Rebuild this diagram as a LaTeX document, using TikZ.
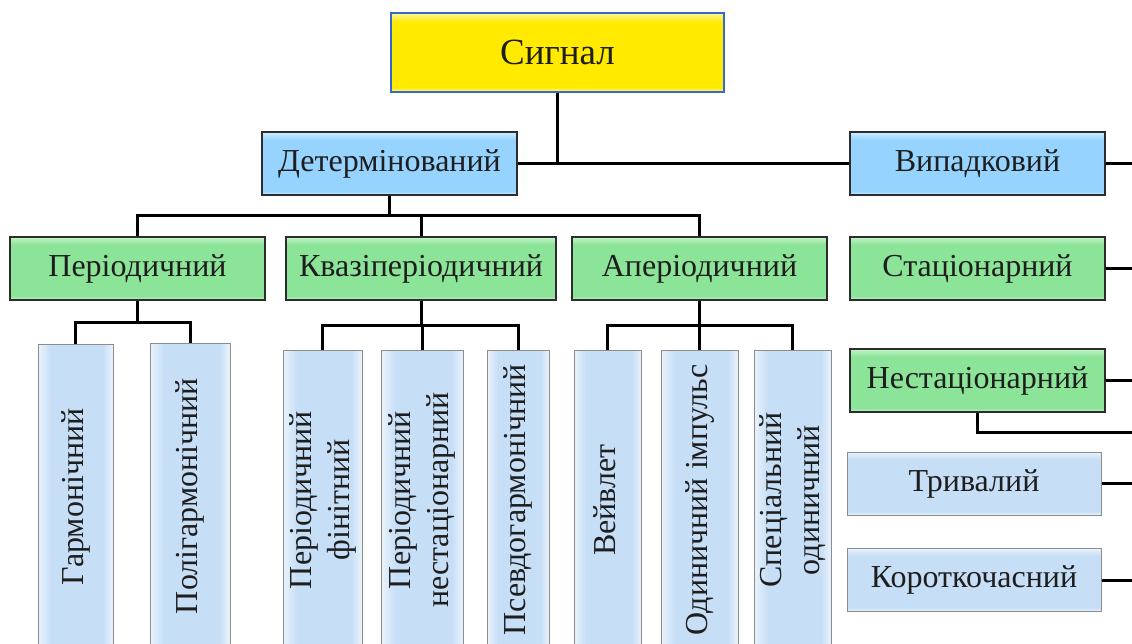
\documentclass[tikz,border=0pt]{standalone}
\usepackage{fontspec}
\setmainfont{Liberation Serif}
\usepackage{graphicx}

% palette
\definecolor{ybase}{RGB}{255,234,0}
\definecolor{ylight}{RGB}{255,246,150}
\definecolor{ybord}{RGB}{55,105,205}
\definecolor{bbase}{RGB}{150,212,255}
\definecolor{blight}{RGB}{208,236,255}
\definecolor{gbase}{RGB}{140,228,152}
\definecolor{glight}{RGB}{198,244,203}
\definecolor{pbase}{RGB}{198,222,246}
\definecolor{plight}{RGB}{234,243,252}
\definecolor{frame}{RGB}{45,45,45}
\definecolor{pframe}{RGB}{140,140,140}
\definecolor{ink}{RGB}{30,30,30}

% box fills: flat colour with a lighter rim at top and bottom
\pgfdeclareverticalshading{yshade}{100bp}{color(0bp)=(ylight); color(25bp)=(ylight); color(28bp)=(ybase); color(69bp)=(ybase); color(75bp)=(ylight); color(100bp)=(ylight)}
\pgfdeclareverticalshading{bshade}{100bp}{color(0bp)=(blight); color(25bp)=(blight); color(28bp)=(bbase); color(69bp)=(bbase); color(75bp)=(blight); color(100bp)=(blight)}
\pgfdeclareverticalshading{gshade}{100bp}{color(0bp)=(glight); color(25bp)=(glight); color(28bp)=(gbase); color(69bp)=(gbase); color(75bp)=(glight); color(100bp)=(glight)}
\pgfdeclareverticalshading{pshade}{100bp}{color(0bp)=(plight); color(25bp)=(plight); color(28bp)=(pbase); color(69bp)=(pbase); color(75bp)=(plight); color(100bp)=(plight)}
% tall boxes: lighter towards the left and right edges
\pgfdeclarehorizontalshading{tshade}{100bp}{color(0bp)=(plight); color(25bp)=(plight); color(34bp)=(pbase); color(68bp)=(pbase); color(75bp)=(plight); color(100bp)=(plight)}

\newcommand\turnedtext[1]{\rotatebox{90}{\begin{tabular}{@{}c@{}}#1\end{tabular}}}

\begin{document}
\begin{tikzpicture}[x=1pt,y=-1pt,
  box/.style={rectangle, shade, inner sep=0pt, minimum height=63pt,
    text=ink, font=\fontsize{32}{38}\selectfont},
  sigbox/.style={box, shading=yshade, draw=ybord, line width=2pt,
    minimum width=333pt, minimum height=79pt, font=\fontsize{37}{44}\selectfont},
  bluebox/.style={box, shading=bshade, draw=frame, line width=2pt},
  greenbox/.style={box, shading=gshade, draw=frame, line width=2pt},
  palebox/.style={box, shading=pshade, draw=pframe, line width=1pt},
  tallbox/.style={box, shading=tshade, draw=pframe, line width=0.9pt},
  link/.style={draw=black, line width=3pt}]

\useasboundingbox (0,0) rectangle (1132,644);
\clip (0,0) rectangle (1132,644);

% root and first level
\node[sigbox] (sig) at (557.5,52.5) {Сигнал};
\node[bluebox, minimum width=255pt] (det) at (389.5,163.5) {Детермінований};
\node[bluebox, minimum width=255pt] (vyp) at (977.5,163.5) {Випадковий};

% second level
\node[greenbox, minimum width=255pt] (per) at (137.5,268.5) {Періодичний};
\node[greenbox, minimum width=270pt] (kva) at (421,268.5) {Квазіперіодичний};
\node[greenbox, minimum width=255pt] (ape) at (699.5,268.5) {Аперіодичний};
\node[greenbox, minimum width=255pt] (sta) at (977.5,268.5) {Стаціонарний};
\node[greenbox, minimum width=255pt] (nes) at (977.5,380.5) {Нестаціонарний};
\node[palebox, minimum width=254pt] (try) at (974,483.5) {Тривалий};
\node[palebox, minimum width=254pt] (kor) at (974,580) {Короткочасний};

% tall leaves with upright-reading labels
\node[tallbox, minimum width=75pt, minimum height=306pt] (h1) at (75.5,497) {\turnedtext{Гармонічний}};
\node[tallbox, minimum width=80pt, minimum height=306pt] (h2) at (190,496) {\turnedtext{Полігармонічний}};
\node[tallbox, minimum width=79pt, minimum height=300pt] (k1) at (322.5,500) {\turnedtext{Періодичний\\фінітний}};
\node[tallbox, minimum width=82pt, minimum height=300pt] (k2) at (422,500) {\turnedtext{Періодичний\\нестаціонарний}};
\node[tallbox, minimum width=62pt, minimum height=300pt] (k3) at (518,500) {\turnedtext{Псевдогармонічний}};
\node[tallbox, minimum width=67pt, minimum height=300pt] (a1) at (607.5,500) {\turnedtext{Вейвлет}};
\node[tallbox, minimum width=77pt, minimum height=300pt] (a2) at (699.5,500) {\turnedtext{Одиничний імпульс}};
\node[tallbox, minimum width=77pt, minimum height=300pt] (a3) at (792.5,500) {\turnedtext{Спеціальний\\одиничний}};

% bus levels
\coordinate (b1) at (0,216);
\coordinate (b2) at (0,322);
\coordinate (b3) at (0,325);
\coordinate (edge) at (1140,0);
\coordinate (nesend) at (1140,432);

% connectors
\draw[link] (sig.south) -- (sig.south |- det.east);
\draw[link] (det.east) -- (vyp.west);

\draw[link] (det.south) -- (det.south |- b1);
\draw[link] (per.north) |- (ape.north |- b1) -- (ape.north);
\draw[link] (kva.north) -- (kva.north |- b1);

\draw[link] (per.south) -- (per.south |- b2);
\draw[link] (h1.north) |- (h2.north |- b2) -- (h2.north);

\draw[link] (kva.south) -- (kva.south |- b3);
\draw[link] (k1.north) |- (k3.north |- b3) -- (k3.north);
\draw[link] (k2.north) -- (k2.north |- b3);

\draw[link] (ape.south) -- (ape.south |- b3);
\draw[link] (a1.north) |- (a3.north |- b3) -- (a3.north);
\draw[link] (a2.north) -- (a2.north |- b3);

% right column runs off to the right
\draw[link] (vyp.east) -- (vyp.east -| edge);
\draw[link] (sta.east) -- (sta.east -| edge);
\draw[link] (nes.east) -- (nes.east -| edge);
\draw[link] (nes.south) |- (nesend);
\draw[link, line width=2.2pt] (try.east) -- (try.east -| edge);
\draw[link] (kor.east) -- (kor.east -| edge);
\end{tikzpicture}
\end{document}
